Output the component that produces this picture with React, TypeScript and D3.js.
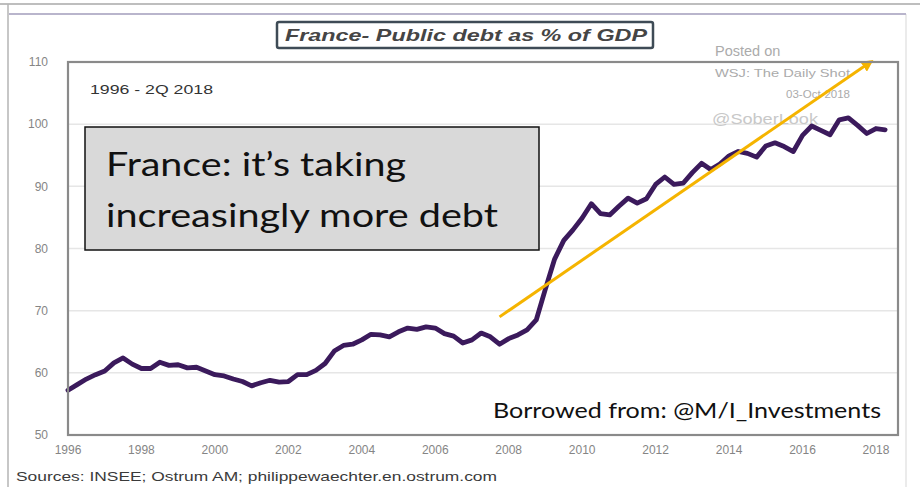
import React from "react";
import * as d3 from "d3";

const startYear = 1996;
const debt: number[] = [
  57.2, 58.1, 59.0, 59.7, 60.3, 61.6, 62.4, 61.4, 60.7, 60.7,
  61.7, 61.2, 61.3, 60.8, 60.9, 60.3, 59.7, 59.5, 59.0, 58.6,
  57.9, 58.4, 58.8, 58.5, 58.6, 59.7, 59.7, 60.4, 61.5, 63.5,
  64.4, 64.6, 65.3, 66.2, 66.1, 65.8, 66.6, 67.2, 67.0, 67.4,
  67.2, 66.3, 65.9, 64.8, 65.3, 66.4, 65.8, 64.6, 65.5, 66.1,
  66.9, 68.5, 73.5, 78.3, 81.3, 83.0, 84.9, 87.2, 85.6, 85.4,
  86.8, 88.1, 87.3, 88.0, 90.3, 91.5, 90.3, 90.5, 92.2, 93.7,
  92.7, 93.6, 94.9, 95.6, 95.3, 94.7, 96.5, 97.0, 96.4, 95.6,
  98.2, 99.7, 99.0, 98.3, 100.7, 101.0, 99.8, 98.5, 99.3, 99.1,
];
const trendYears = [2007.75, 2017.85];
const trendValues = [69, 110];
const yTicks = [50, 60, 70, 80, 90, 100, 110];
const xTicks = [1996, 1998, 2000, 2002, 2004, 2006, 2008, 2010, 2012, 2014, 2016, 2018];
const gridValues = [60, 70, 80, 90, 100];

const titleText = "France- Public debt as % of GDP";
const periodText = "1996 - 2Q 2018";
const noteLines = ["France: it\u2019s taking", "increasingly more debt"];
const borrowedText = "Borrowed from: @M/I_Investments";
const sourceText = "Sources: INSEE;  Ostrum AM; philippewaechter.en.ostrum.com";

export default function App() {
  const W = 920, H = 487;
  const L = 68, R = 898, T = 62, B = 435;
  const x = d3.scaleLinear().domain([1996, 2018.6]).range([L, R]);
  const y = d3.scaleLinear().domain([50, 110]).range([B, T]);
  const pts = debt.map((v, i) => ({ t: startYear + i / 4, v }));
  const line = d3
    .line<{ t: number; v: number }>()
    .x((d) => x(d.t))
    .y((d) => y(d.v))
    .curve(d3.curveLinear);
  const trend = trendYears.map((t, i) => ({ t, v: trendValues[i] }));
  const axisGray = "#8a8a8a";
  return (
    <svg
      width={W}
      height={H}
      style={{ position: "absolute", left: 0, top: 0, background: "#fff" }}
    >
      <defs>
        <marker
          id="arrow"
          viewBox="0 0 10 10"
          refX="7"
          refY="5"
          markerWidth="4"
          markerHeight="4"
          orient="auto"
        >
          <path d="M0,0 L10,5 L0,10 z" fill="#f5b400" />
        </marker>
      </defs>
      <rect x={0} y={0} width={W} height={H} fill="#fff" />
      {/* outer frame */}
      <line x1={0} x2={W} y1={4} y2={4} stroke="#a8a8a8" strokeWidth={1.5} />
      <line x1={8} x2={8} y1={4} y2={H} stroke="#b5b5b5" strokeWidth={1.5} />
      <line x1={906} x2={906} y1={14} y2={H} stroke="#e4e4e4" strokeWidth={1.5} />
      <line x1={9} x2={906} y1={14} y2={14} stroke="#b9b5cc" strokeWidth={2} />

      {/* title */}
      <rect x={277} y={22} width={376} height={26} rx={2} fill="#fff" stroke="#3e4b56" strokeWidth={2.5} />
      <text
        x={285}
        y={41}
        fontFamily="Liberation Sans, Arial, sans-serif"
        fontWeight="bold"
        fontStyle="italic"
        fontSize={17}
        fill="#454545"
        textLength={362}
        lengthAdjust="spacingAndGlyphs"
      >
        {titleText}
      </text>

      {/* grid */}
      {gridValues.map((g) => (
        <line key={g} x1={L} x2={R} y1={y(g)} y2={y(g)} stroke="#e6e6e6" strokeWidth={1.5} />
      ))}

      {/* y labels */}
      {yTicks.map((t) => (
        <text
          key={t}
          x={48}
          y={y(t)}
          dy="0.35em"
          textAnchor="end"
          fontFamily="Liberation Sans, Arial, sans-serif"
          fontSize={12}
          fill="#858585"
        >
          {t}
        </text>
      ))}
      {/* x labels */}
      {xTicks.map((t) => (
        <text
          key={t}
          x={x(t)}
          y={450}
          dy="0.35em"
          textAnchor="middle"
          fontFamily="Liberation Sans, Arial, sans-serif"
          fontSize={12}
          fill="#858585"
        >
          {t}
        </text>
      ))}

      {/* watermark texts */}
      <text x={715} y={56} fontFamily="Liberation Sans, Arial, sans-serif" fontSize={14.5} fill="#ababab">
        Posted on
      </text>
      <text x={715} y={77} fontFamily="Liberation Sans, Arial, sans-serif" fontSize={11.5} fill="#ababab" textLength={135} lengthAdjust="spacingAndGlyphs">
        WSJ: The Daily Shot
      </text>
      <text x={850} y={98} textAnchor="end" fontFamily="Liberation Sans, Arial, sans-serif" fontSize={11.5} fill="#ababab">
        03-Oct-2018
      </text>
      <text x={712} y={124} fontFamily="Liberation Sans, Arial, sans-serif" fontSize={15} fill="#c8c8c8" textLength={106} lengthAdjust="spacingAndGlyphs">
        @SoberLook
      </text>

      <text x={90} y={94} fontFamily="Liberation Sans, Arial, sans-serif" fontSize={13} fill="#333" textLength={123} lengthAdjust="spacingAndGlyphs">
        {periodText}
      </text>

      {/* data line */}
      <path
        d={line(pts) || ""}
        fill="none"
        stroke="#3b1a5c"
        strokeWidth={4.8}
        strokeLinejoin="round"
        strokeLinecap="round"
      />

      {/* trend arrow */}
      <line
        x1={x(trend[0].t)}
        y1={y(trend[0].v)}
        x2={x(trend[1].t)}
        y2={y(trend[1].v)}
        stroke="#f5b400"
        strokeWidth={3}
        markerEnd="url(#arrow)"
      />

      {/* plot border */}
      <rect x={L} y={T} width={R - L} height={B - T} fill="none" stroke={axisGray} strokeWidth={2.2} />

      {/* annotation box */}
      <rect x={85} y={127} width={454} height={123} fill="#d9d9d9" stroke="#111" strokeWidth={1.5} />
      <text x={106} y={176} fontFamily="Lato, Open Sans, sans-serif" fontSize={33} fill="#111" textLength={300} lengthAdjust="spacingAndGlyphs">
        {noteLines[0]}
      </text>
      <text x={106} y={227} fontFamily="Lato, Open Sans, sans-serif" fontSize={33} fill="#111" textLength={392} lengthAdjust="spacingAndGlyphs">
        {noteLines[1]}
      </text>

      <text x={493} y={418} fontFamily="Lato, Open Sans, sans-serif" fontSize={21} fill="#111" textLength={388} lengthAdjust="spacingAndGlyphs">
        {borrowedText}
      </text>

      <text x={16} y={481} fontFamily="Liberation Sans, Arial, sans-serif" fontSize={13.5} fill="#3a3a3a" textLength={481} lengthAdjust="spacingAndGlyphs">
        {sourceText}
      </text>
    </svg>
  );
}
